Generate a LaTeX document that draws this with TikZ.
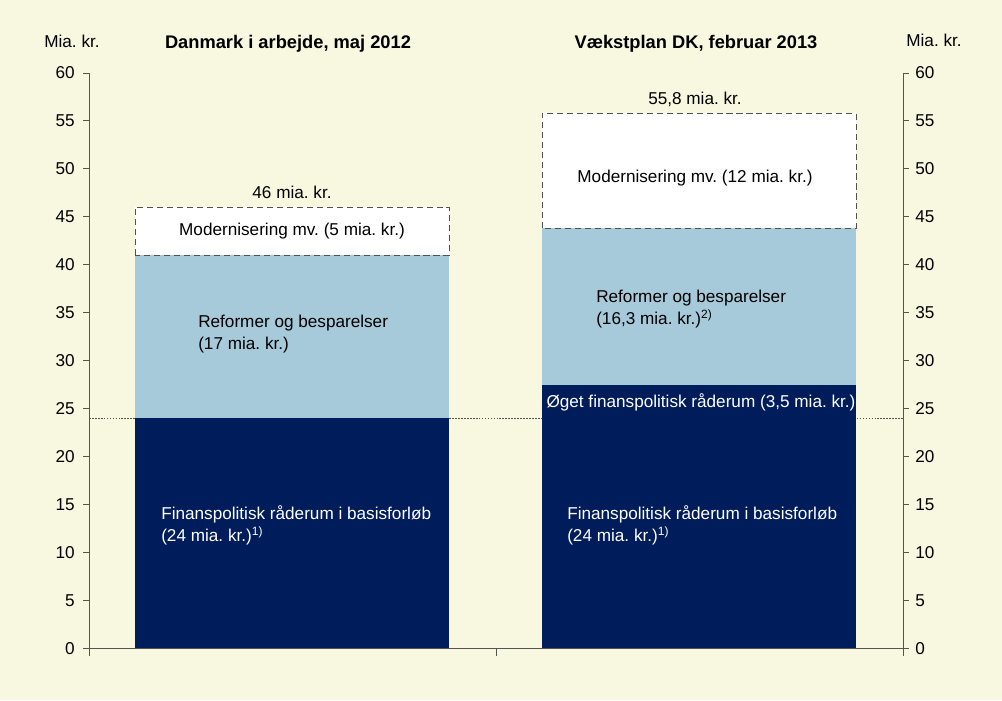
\documentclass[tikz,border=0pt]{standalone}
\usepackage{fontspec}
\setmainfont{Liberation Sans}
\frenchspacing
\definecolor{bgcream}{RGB}{248,247,224}
\definecolor{navy}{RGB}{0,28,90}
\definecolor{lightblue}{RGB}{166,202,218}
\definecolor{axisgray}{RGB}{85,85,80}
\definecolor{dashgray}{RGB}{80,80,80}

\begin{document}
\begin{tikzpicture}[x=0.025cm, y=0.23958cm,
    every node/.style={font=\fontsize{12.2}{15.6}\selectfont, inner sep=0pt},
    axis/.style={axisgray, line width=0.7pt},
    modbox/.style={fill=white, draw=dashgray, line width=0.7pt, dash pattern=on 4.3pt off 2.8pt},
    headline/.style={font=\fontsize{13}{15}\selectfont\bfseries},
    inbar/.style={align=left, anchor=west}]

    % background and frame of the page
    \fill[bgcream] (0,-5.426) rectangle (1002,67.62);
    \useasboundingbox (0,-5.426) rectangle (1002,67.62);

    % headings
    \node (unitl) at (72,63.3) {Mia. kr.};
    \node (unitr) at (934,63.4) {Mia. kr.};
    \node[headline] (titlel) at (288,63.1) {Danmark i arbejde, maj 2012};
    \node[headline] (titler) at (696,63.1) {Vækstplan DK, februar 2013};

    % dotted line at 24 mia. kr.
    \draw[axisgray, line width=0.6pt, dash pattern=on 1.2pt off 0.9pt] (89,24) -- (903,24);

    % Bar 1: maj 2012
    \begin{scope}
        \fill[navy] (135,0) rectangle (449,24);
        \fill[lightblue] (135,24) rectangle (449,41);
        \draw[modbox] (135,41) rectangle (449,46);
        \node (mod1) at (292,43.5) {Modernisering mv. (5 mia. kr.)};
        \node[inbar] (ref1) at (198,32.8) {Reformer og besparelser\\(17 mia. kr.)};
        \node[inbar, white] (base1) at (161,12.8) {Finanspolitisk råderum i basisforløb\\(24 mia. kr.)\textsuperscript{1)}};
        \node (sum1) at (292,47.6) {46 mia. kr.};
    \end{scope}

    % Bar 2: februar 2013
    \begin{scope}
        \fill[navy] (542,0) rectangle (856,27.5);
        \fill[lightblue] (542,27.5) rectangle (856,43.8);
        \draw[modbox] (542,43.8) rectangle (856,55.8);
        \node (mod2) at (695,49.0) {Modernisering mv. (12 mia. kr.)};
        \node[inbar] (ref2) at (596,35.4) {Reformer og besparelser\\(16,3 mia. kr.)\textsuperscript{2)}};
        \node[white] (extra2) at (701,25.6) {Øget finanspolitisk råderum (3,5 mia. kr.)};
        \node[inbar, white] (base2) at (567,12.8) {Finanspolitisk råderum i basisforløb\\(24 mia. kr.)\textsuperscript{1)}};
        \node (sum2) at (695,57.3) {55,8 mia. kr.};
    \end{scope}

    % axes
    \draw[axis] (89,-0.8) -- (89,60);
    \draw[axis] (903,-0.8) -- (903,60);
    \draw[axis] (89,0) -- (903,0);
    \draw[axis] (496,0) -- (496,-0.8);
    \foreach \v in {0,5,...,60} {
        \draw[axis] (83,\v) -- (89,\v);
        \draw[axis] (903,\v) -- (909,\v);
        \node[anchor=east] (yl\v) at (75,\v) {\v};
        \node[anchor=west] (yr\v) at (915,\v) {\v};
    }
\end{tikzpicture}
\end{document}
